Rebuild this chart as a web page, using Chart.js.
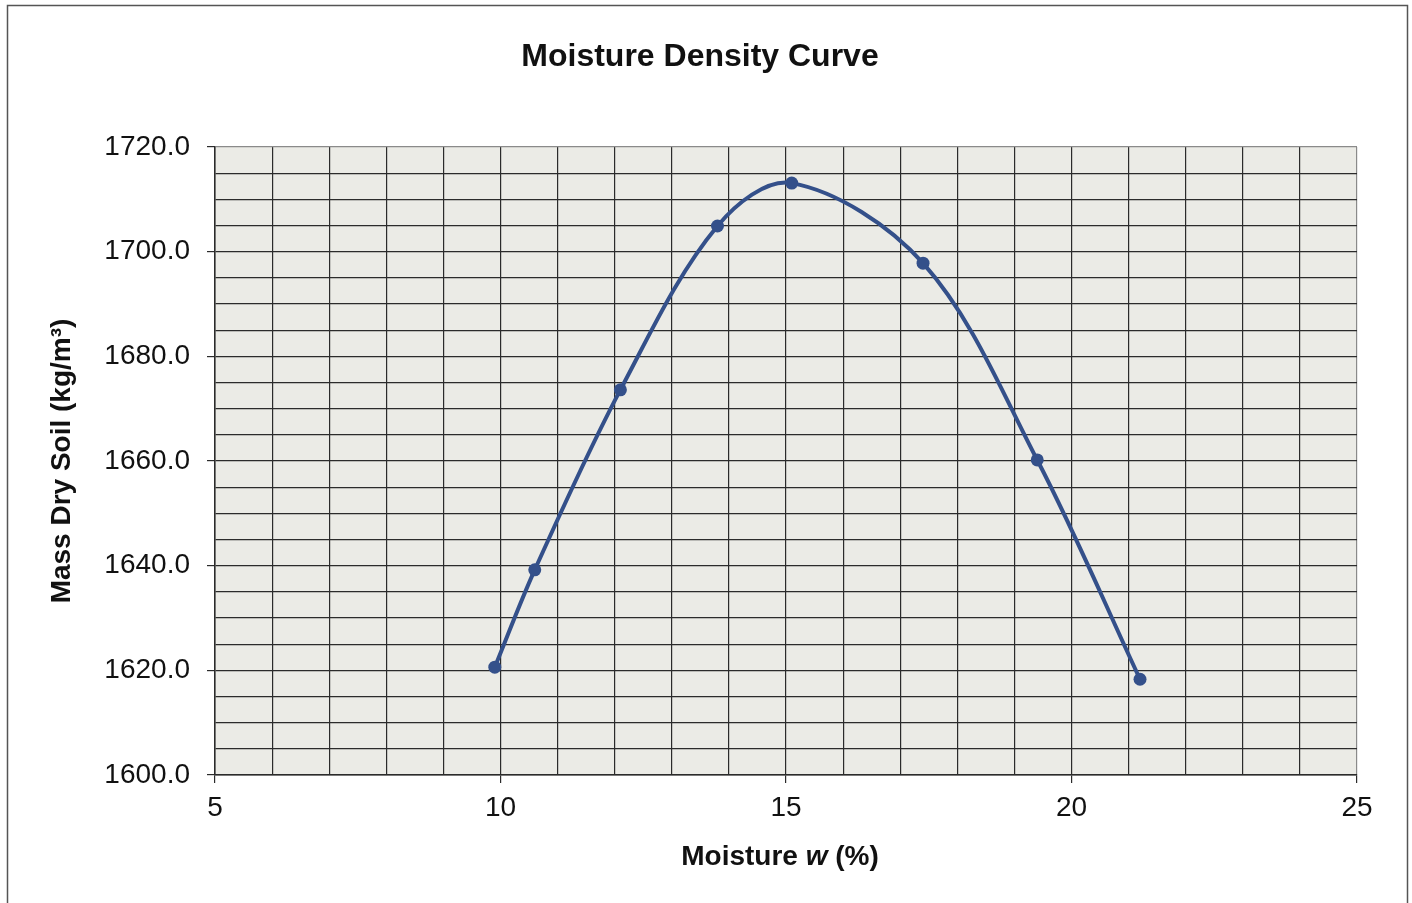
<!DOCTYPE html>
<html>
<head>
<meta charset="utf-8">
<title>Moisture Density Curve</title>
<script src="https://cdn.jsdelivr.net/npm/chart.js@4.4.0/dist/chart.umd.min.js"></script>
<style>
  html, body { margin: 0; padding: 0; background: #ffffff; }
  #wrap { position: relative; width: 1412px; height: 903px; }
</style>
</head>
<body>
<div id="wrap"><canvas id="mdChart" width="1412" height="903"></canvas></div>
<script>
// readings off the lab sheet
var moisture = [9.9, 10.6, 12.1, 13.8, 15.1, 17.4, 19.4, 21.2];
var dryDensity = [1620.6, 1639.2, 1673.6, 1704.9, 1713.1, 1697.8, 1660.2, 1618.3];

var xMin = 5, xMax = 25, xStep = 1, xLabelEvery = 5;
var yMin = 1600, yMax = 1720, yStep = 5, yLabelEvery = 20;

var chartTitle = 'Moisture Density Curve';
var xTitleParts = ['Moisture ', 'w', ' (%)'];

var lineColor = '#34508a';
var gridColor = '#2b2b2b';
var edgeColor = '#8a8a8a';
var fontFam = '"Liberation Sans", Arial, sans-serif';

var points = moisture.map(function (w, i) {
    return { x: w, y: dryDensity[i] };
});

// page frame, plot background, titles
var paperPlugin = {
    id: 'paper',
    beforeDraw: function (chart) {
        var c = chart.ctx, a = chart.chartArea;
        c.save();
        c.strokeStyle = '#555555';
        c.lineWidth = 1.5;
        c.strokeRect(7.5, 5.5, 1400, 920);
        c.fillStyle = '#ebebe6';
        c.fillRect(a.left, a.top, a.right - a.left, a.bottom - a.top);
        c.restore();
    },
    afterDraw: function (chart) {
        var c = chart.ctx, a = chart.chartArea;
        c.save();
        c.fillStyle = '#111111';
        c.textBaseline = 'middle';

        // main title
        c.font = 'bold 32px ' + fontFam;
        c.textAlign = 'center';
        c.fillText(chartTitle, 700, 57);

        // x axis title with italic w
        var fonts = ['bold 28px ' + fontFam, 'italic bold 28px ' + fontFam, 'bold 28px ' + fontFam];
        var widths = [], total = 0;
        xTitleParts.forEach(function (t, i) {
            c.font = fonts[i];
            widths[i] = c.measureText(t).width;
            total += widths[i];
        });
        var x = 780 - total / 2;
        c.textAlign = 'left';
        xTitleParts.forEach(function (t, i) {
            c.font = fonts[i];
            c.fillText(t, x, 857);
            x += widths[i];
        });
        c.restore();
    }
};

var ctx = document.getElementById('mdChart');

var mdChart = new Chart(ctx.getContext('2d'), {
    type: 'scatter',
    data: {
        datasets: [{
            label: 'Mass Dry Soil',
            data: points,
            showLine: true,
            tension: 0.34,
            borderColor: lineColor,
            borderWidth: 4,
            backgroundColor: lineColor,
            pointRadius: 6.5,
            pointBorderWidth: 0,
            pointBackgroundColor: lineColor
        }]
    },
    plugins: [paperPlugin],
    options: {
        responsive: false,
        animation: false,
        layout: { padding: { left: 0, right: 55, top: 147, bottom: 0 } },
        plugins: {
            legend: { display: false },
            tooltip: { enabled: false },
            title: { display: false }
        },
        scales: {
            x: {
                type: 'linear',
                min: xMin,
                max: xMax,
                afterFit: function (scale) { scale.height = 128; },
                border: { display: true, color: gridColor, width: 1.5 },
                grid: {
                    color: function (c) { return c.tick && c.tick.value === xMax ? edgeColor : gridColor; },
                    lineWidth: 1.2,
                    tickLength: 8,
                    tickColor: function (c) {
                        return c.tick && c.tick.value % xLabelEvery === 0 ? gridColor : 'rgba(0,0,0,0)';
                    }
                },
                ticks: {
                    stepSize: xStep,
                    autoSkip: false,
                    maxRotation: 0,
                    padding: 8,
                    color: '#111111',
                    font: { family: fontFam, size: 28 },
                    callback: function (value) {
                        return value % xLabelEvery === 0 ? value : '';
                    }
                },
                title: { display: false }
            },
            y: {
                type: 'linear',
                min: yMin,
                max: yMax,
                afterFit: function (scale) { scale.width = 215; },
                border: { display: true, color: gridColor, width: 1.5 },
                grid: {
                    color: function (c) { return c.tick && c.tick.value === yMax ? edgeColor : gridColor; },
                    lineWidth: 1.2,
                    tickLength: 8,
                    tickColor: function (c) {
                        return c.tick && c.tick.value % yLabelEvery === 0 ? gridColor : 'rgba(0,0,0,0)';
                    }
                },
                ticks: {
                    stepSize: yStep,
                    autoSkip: false,
                    padding: 17,
                    color: '#111111',
                    font: { family: fontFam, size: 28 },
                    callback: function (value) {
                        return value % yLabelEvery === 0 ? value.toFixed(1) : '';
                    }
                },
                title: {
                    display: true,
                    text: 'Mass Dry Soil (kg/m³)',
                    color: '#111111',
                    font: { family: fontFam, size: 28, weight: 'bold', lineHeight: 1.2 },
                    padding: { top: 45, bottom: 0 }
                }
            }
        }
    }
});
</script>
</body>
</html>
